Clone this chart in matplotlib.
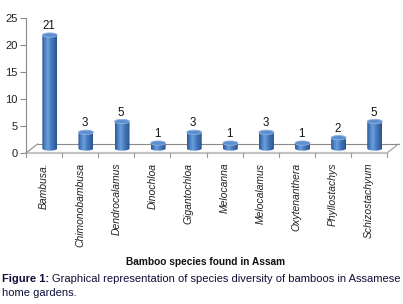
import numpy as np
import matplotlib.pyplot as plt
from matplotlib.colors import LinearSegmentedColormap
from matplotlib.patches import Polygon, Ellipse

plt.rcParams["font.family"] = ["Liberation Sans", "DejaVu Sans"]

species = ["Bambusa.", "Chimonobambusa", "Dendrocalamus", "Dinochloa",
           "Gigantochloa", "Melocanna", "Melocalamus", "Oxytenanthera",
           "Phyllostachys", "Schizostachyum"]
counts = [21, 3, 5, 1, 3, 1, 3, 1, 2, 5]
y_ticks = [0, 5, 10, 15, 20, 25]

W, H = 403, 304
fig = plt.figure(figsize=(W / 100, H / 100), dpi=100)
ax = fig.add_axes([26 / W, (H - 153) / H, 374 / W, 135 / H])

# depth of the pseudo-3d floor, in data units
dx, dy = 0.32, 1.67
n = len(species)

floor = Polygon([(-0.5, 0), (-0.5 + dx, dy), (n - 0.5 + dx, dy), (n - 0.5, 0)],
                closed=True, facecolor="white", edgecolor="none", zorder=1)
ax.add_patch(floor)
ax.plot([-0.5 + dx, n - 0.5 + dx], [dy, dy], color="#8a8a8a", lw=0.8, zorder=2)
ax.plot([-0.5, -0.5 + dx], [0, dy], color="#8a8a8a", lw=0.8, zorder=2, clip_on=False)
ax.plot([n - 0.5, n - 0.5 + dx], [0, dy], color="#9a9a9a", lw=0.8, zorder=2, clip_on=False)
ax.plot([-0.5, n - 0.5], [0, 0], color="#c4c4c4", lw=1.6, zorder=2, clip_on=False)
for b in np.arange(-0.5, n, 1.0):
    ax.plot([b, b], [0, -0.75], color="#9a9a9a", lw=0.8, clip_on=False, zorder=2)

cyl = LinearSegmentedColormap.from_list(
    "cyl", ["#2b5592", "#4f83c6", "#6c9edc", "#4a7dc0", "#3a68a8", "#2a5190"])
grad = np.linspace(0, 1, 64).reshape(1, -1)

bw, eh = 0.415, 0.8
for i, v in enumerate(counts):
    cx = i + dx / 2
    yb = dy / 2
    top = yb + v
    th = np.linspace(np.pi, 2 * np.pi, 40)
    arc = np.column_stack([cx + bw / 2 * np.cos(th), yb + eh / 2 * np.sin(th)])
    pts = np.vstack([[cx - bw / 2, top], arc, [cx + bw / 2, top]])
    body = Polygon(pts, closed=True, facecolor="none", edgecolor="none")
    ax.add_patch(body)
    im = ax.imshow(grad, cmap=cyl, aspect="auto", zorder=3,
                   extent=(cx - bw / 2, cx + bw / 2, yb - eh, top))
    im.set_clip_path(body)
    ax.add_patch(Ellipse((cx, top), bw, eh, facecolor="#5d8fd0",
                         edgecolor="#8fb3e0", lw=0.6, zorder=4))
    ax.text(cx - 0.03, top + 0.55, str(v), ha="center", va="bottom",
            fontsize=8.3, color="#111111", zorder=5)

ax.set_xlim(-0.5, -0.5 + 374 / 36.1)
ax.set_ylim(0, 25)
ax.set_yticks(y_ticks)
ax.tick_params(axis="y", direction="out", length=4, width=0.8, color="#8a8a8a",
               labelsize=8, labelcolor="#222222", pad=2)
ax.set_xticks(range(n))
ax.set_xticklabels(species, rotation=90, style="italic", fontsize=7.5, color="#222222")
ax.tick_params(axis="x", length=0, pad=7)
for s in ["top", "right", "bottom"]:
    ax.spines[s].set_visible(False)
ax.spines["left"].set_color("#8a8a8a")
ax.spines["left"].set_linewidth(0.8)
ax.patch.set_alpha(0)

fig.text(206 / W, 1 - 262 / H, "Bamboo species found in Assam", ha="center",
         va="center", fontsize=7.3, fontweight="bold", color="#111111")

fig.canvas.draw()
t1 = fig.text(2 / W, 1 - 279 / H, "Figure 1:", ha="left", va="center",
              fontsize=8, fontweight="bold", color="#10103a")
fig.canvas.draw()
bb = t1.get_window_extent()
fig.text((bb.x1 + 2.5) / W, 1 - 279 / H,
         "Graphical representation of species diversity of bamboos in Assamese",
         ha="left", va="center", fontsize=8, color="#10103a")
fig.text(2 / W, 1 - 293 / H, "home gardens.", ha="left", va="center",
         fontsize=8, color="#10103a")

fig.savefig("out.png", dpi=100)
